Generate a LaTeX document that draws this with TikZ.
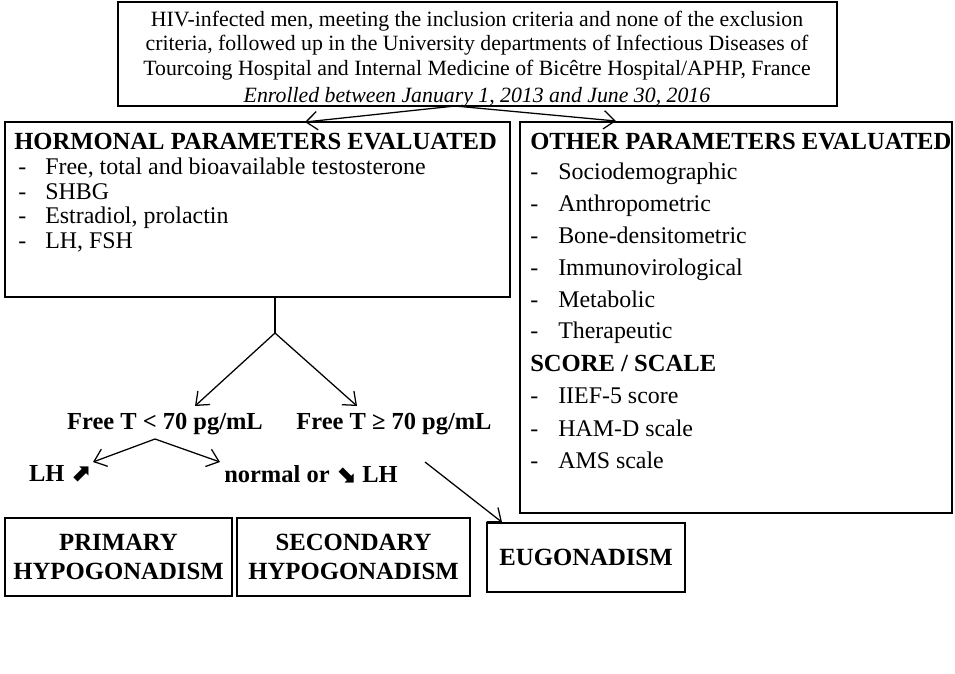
\documentclass[tikz,border=0pt]{standalone}
\usepackage{fontspec}
\setmainfont{Liberation Serif}
\newfontfamily\dingfont{DejaVu Sans}
\usetikzlibrary{arrows.meta,fit}

\tikzset{
  box/.style={draw,line width=1.1pt,inner sep=0pt},
  arr/.style={-{Straight Barb[length=8pt,width=13pt]},line width=0.9pt},
  item/.style={anchor=base west,inner sep=0pt,font=\fontsize{17}{20}\selectfont},
  head/.style={anchor=base west,inner sep=0pt,font=\fontsize{17.5}{20}\selectfont\bfseries},
  lab/.style={inner sep=0pt,font=\fontsize{17.4}{20.6}\selectfont\bfseries},
}

\begin{document}
\begin{tikzpicture}[x=0.025cm,y=-0.025cm]
    \useasboundingbox (0,0) rectangle (955,673);

    % inclusion
    \node[box,fit={(118,2) (837,106)}] (incl) {};
    \node[align=center,inner sep=0pt,font=\fontsize{15.5}{17.4}\selectfont] (incltext) at (477,59)
        {HIV-infected men, meeting the inclusion criteria and none of the exclusion\\
         criteria, followed up in the University departments of Infectious Diseases of\\
         Tourcoing Hospital and Internal Medicine of Bicêtre Hospital/APHP, France\\[2pt]
         \textit{Enrolled between January 1, 2013 and June 30, 2016}};

    % hormonal parameters
    \node[box,fit={(5,122) (510,297)}] (horm) {};
    \node[head] (hormhead) at (14,149) {HORMONAL PARAMETERS EVALUATED};
    \foreach \t [count=\i] in {{Free, total and bioavailable testosterone},SHBG,{Estradiol, prolactin},{LH, FSH}}{
        \node[item] (hd\i) at (18,150+24.6*\i) {-};
        \node[item] (hi\i) at (45,150+24.6*\i) {\t};
    }

    % other parameters
    \node[box,fit={(520,122) (952,513)}] (other) {};
    \node[head] (otherhead) at (530,149) {OTHER PARAMETERS EVALUATED};
    \foreach \t [count=\i] in {Sociodemographic,Anthropometric,Bone-densitometric,Immunovirological,Metabolic,Therapeutic}{
        \node[item] (od\i) at (530,148+31.8*\i) {-};
        \node[item] (oi\i) at (558,148+31.8*\i) {\t};
    }
    \node[head] (scorehead) at (530,371) {SCORE / SCALE};
    \foreach \t [count=\i] in {IIEF-5 score,HAM-D scale,AMS scale}{
        \node[item] (sd\i) at (530,371+32.5*\i) {-};
        \node[item] (si\i) at (558,371+32.5*\i) {\t};
    }

    % split of the inclusion box
    \coordinate (split) at (455,106);
    \coordinate (hormtip) at (305,122);
    \coordinate (othertip) at (616,121);
    \draw[arr] (split) -- (hormtip);
    \draw[arr] (split) -- (othertip);

    % free testosterone
    \coordinate (stem) at (275,297);
    \coordinate (fork) at (275,333);
    \node[lab] (lowT) at (165,424) {Free T < 70 pg/mL};
    \node[lab] (highT) at (394,424) {Free T ≥ 70 pg/mL};
    \coordinate (lowtip) at (195,406);
    \coordinate (hightip) at (357,406);
    \draw[line width=0.9pt] (stem) -- (fork);
    \draw[arr] (fork) -- (lowtip);
    \draw[arr] (fork) -- (hightip);

    % LH
    \coordinate (lhfork) at (155,439);
    \node[lab] (lhup) at (60,474) {LH {\dingfont ⬈}};
    \node[lab] (lhdown) at (311,474) {normal or {\dingfont ⬊} LH};
    \coordinate (uptip) at (93,462);
    \coordinate (downtip) at (220,462);
    \draw[arr] (lhfork) -- (uptip);
    \draw[arr] (lhfork) -- (downtip);

    % outcomes
    \node[box,fit={(5,518) (232,596)}] (prim) {};
    \node[lab,align=center,font=\fontsize{17.6}{20.6}\selectfont\bfseries] (primtext) at (prim.center) {PRIMARY\\HYPOGONADISM};
    \node[box,fit={(237,518) (470,596)}] (sec) {};
    \node[lab,align=center,font=\fontsize{17.6}{20.6}\selectfont\bfseries] (sectext) at (sec.center) {SECONDARY\\HYPOGONADISM};
    \node[box,fit={(487,523) (685,592)}] (eugo) {};
    \node[lab,font=\fontsize{17.6}{20.6}\selectfont\bfseries] (eugotext) at (eugo.center) {EUGONADISM};
    \coordinate (eugostart) at (425,462);
    \draw[arr] (eugostart) -- (eugo.north west -| 502,0);
\end{tikzpicture}
\end{document}
